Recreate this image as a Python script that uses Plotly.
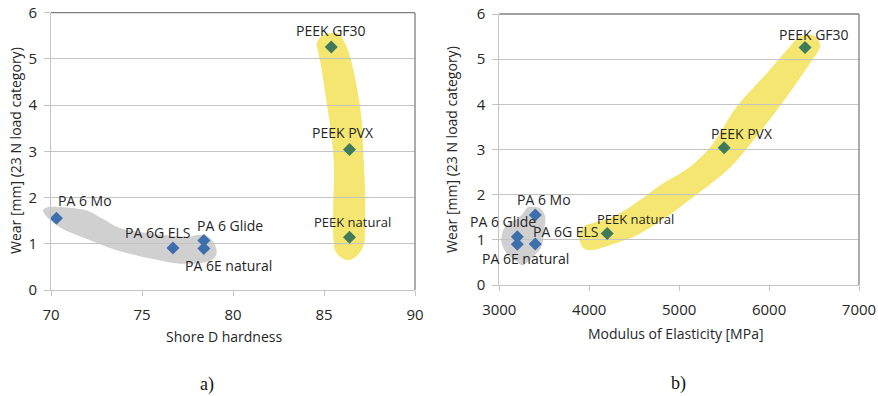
import plotly.graph_objects as go

# ---- data -------------------------------------------------------------
materials = ["PA 6 Mo", "PA 6G ELS", "PA 6 Glide", "PA 6E natural",
             "PEEK natural", "PEEK PVX", "PEEK GF30"]
family = ["PA", "PA", "PA", "PA", "PEEK", "PEEK", "PEEK"]
wear_mm = [1.55, 0.91, 1.07, 0.90, 1.14, 3.04, 5.26]
shore_d = [70.3, 76.7, 78.4, 78.4, 86.4, 86.4, 85.4]
modulus_mpa = [3400, 3400, 3200, 3200, 4200, 5500, 6400]

x_ticks_a = [70, 75, 80, 85, 90]
x_ticks_b = [3000, 4000, 5000, 6000, 7000]
y_ticks = [0, 1, 2, 3, 4, 5, 6]

# ---- highlight outlines (data units) ----------------------------------
pa_zone_a = [(69.67, 1.77), (70.22, 1.80), (71.87, 1.73), (72.79, 1.55),
             (73.88, 1.33), (75.53, 1.22), (77.36, 1.15), (78.09, 1.19),
             (78.64, 1.15), (79.01, 0.97), (79.10, 0.79), (78.83, 0.65),
             (78.09, 0.58), (76.81, 0.58), (75.35, 0.69), (73.52, 0.87),
             (71.87, 1.12), (70.59, 1.33), (69.85, 1.55), (69.58, 1.69)]
peek_zone_a = [(84.60, 5.34), (84.96, 5.52), (85.70, 5.56), (86.06, 5.41),
               (86.43, 5.05), (86.80, 4.40), (87.07, 3.68), (87.16, 2.96),
               (87.25, 2.24), (87.25, 1.52), (87.16, 0.94), (86.43, 0.65),
               (85.70, 0.79), (85.51, 1.15), (85.51, 1.88), (85.55, 2.60),
               (85.42, 3.32), (85.15, 4.04), (84.87, 4.77), (84.69, 5.13)]
pa_zone_b = [(3341, 1.73), (3453, 1.70), (3510, 1.51), (3500, 1.22),
             (3470, 0.85), (3378, 0.63), (3267, 0.44), (3194, 0.52),
             (3100, 0.66), (3027, 0.92), (3044, 1.22), (3119, 1.37),
             (3230, 1.51), (3305, 1.70)]
peek_zone_b = [(3934, 1.29), (4268, 1.51), (4565, 1.88), (4788, 2.21),
               (5121, 2.62), (5380, 3.14), (5641, 3.95), (5974, 4.69),
               (6233, 5.28), (6345, 5.50), (6493, 5.53), (6567, 5.28),
               (6456, 4.91), (6197, 4.17), (5974, 3.58), (5677, 2.84),
               (5455, 2.40), (5158, 1.95), (4862, 1.51), (4565, 1.14),
               (4343, 0.96), (4009, 0.77), (3898, 0.96)]

# label offsets in pixels (dx right, dy up), per chart
label_off_a = [(29, 18), (-15, 15), (26, 15), (25, -17), (3, 15), (-6, 17), (0, 16)]
label_off_b = [(9, 15), (31, 12), (-14, 15), (8, -14), (28, 15), (18, 14), (9, 13)]

W, H = 878, 396
FONT = "Open Sans"
TXT = "#262626"
GRID = "#c4c4c4"
BORDER = "#808080"
COLORS = {"PA": "#3D6FAD", "PEEK": "#3F7A5B"}
PA_FILL = "rgba(200,200,200,0.85)"
PEEK_FILL = "rgba(243,228,100,0.92)"

# plot areas in pixels (left, right, top, bottom)
box_a = (51, 415, 12.7, 290)
box_b = (499.3, 859, 14, 285)
rng_a = (70, 90)
rng_b = (3000, 7000)
rng_y = (0, 6)


def dom(box):
    l, r, t, b = box
    return [l / W, r / W], [1 - b / H, 1 - t / H]


xd_a, yd_a = dom(box_a)
xd_b, yd_b = dom(box_b)


def to_paper(pt, xd, yd, xr):
    x, y = pt
    px = xd[0] + (x - xr[0]) / (xr[1] - xr[0]) * (xd[1] - xd[0])
    py = yd[0] + (y - rng_y[0]) / (rng_y[1] - rng_y[0]) * (yd[1] - yd[0])
    return px, py


def smooth_path(pts):
    """Closed Catmull-Rom spline as an SVG path."""
    n = len(pts)
    d = "M %.5f,%.5f" % pts[0]
    for i in range(n):
        p0, p1, p2, p3 = pts[i - 1], pts[i], pts[(i + 1) % n], pts[(i + 2) % n]
        c1 = (p1[0] + (p2[0] - p0[0]) / 6, p1[1] + (p2[1] - p0[1]) / 6)
        c2 = (p2[0] - (p3[0] - p1[0]) / 6, p2[1] - (p3[1] - p1[1]) / 6)
        d += " C %.5f,%.5f %.5f,%.5f %.5f,%.5f" % (c1 + c2 + p2)
    return d + " Z"


def zone(outline, xd, yd, xr, fill):
    pts = [to_paper(p, xd, yd, xr) for p in outline]
    return dict(type="path", xref="paper", yref="paper", path=smooth_path(pts),
                fillcolor=fill, line=dict(width=0), layer="below")


fig = go.Figure()

for xs, xa, ya in [(shore_d, "x", "y"), (modulus_mpa, "x2", "y2")]:
    for fam in ["PA", "PEEK"]:
        idx = [i for i, f in enumerate(family) if f == fam]
        fig.add_trace(go.Scatter(
            x=[xs[i] for i in idx], y=[wear_mm[i] for i in idx],
            mode="markers", xaxis=xa, yaxis=ya, showlegend=False,
            marker=dict(symbol="diamond", size=10, color=COLORS[fam],
                        line=dict(width=0)),
            text=[materials[i] for i in idx], hoverinfo="text"))

shapes = [
    zone(pa_zone_a, xd_a, yd_a, rng_a, PA_FILL),
    zone(peek_zone_a, xd_a, yd_a, rng_a, PEEK_FILL),
    zone(pa_zone_b, xd_b, yd_b, rng_b, PA_FILL),
    zone(peek_zone_b, xd_b, yd_b, rng_b, PEEK_FILL),
]
# dark frame on top and right of each plot area
for xd, yd in [(xd_a, yd_a), (xd_b, yd_b)]:
    shapes.append(dict(type="line", xref="paper", yref="paper",
                       x0=xd[0], x1=xd[1], y0=yd[1], y1=yd[1],
                       line=dict(color=BORDER, width=1.3), layer="above"))
    shapes.append(dict(type="line", xref="paper", yref="paper",
                       x0=xd[1], x1=xd[1], y0=yd[0], y1=yd[1],
                       line=dict(color=BORDER, width=1.3), layer="above"))

annotations = []
for xs, offs, xa, ya in [(shore_d, label_off_a, "x", "y"),
                         (modulus_mpa, label_off_b, "x2", "y2")]:
    for i, name in enumerate(materials):
        dx, dy = offs[i]
        annotations.append(dict(
            x=xs[i], y=wear_mm[i], xref=xa, yref=ya, text=name,
            showarrow=False, xshift=dx, yshift=dy,
            xanchor="center", yanchor="middle",
            font=dict(family=FONT, size=13 if name == "PEEK natural" else 14,
                      color=TXT)))

# axis titles and panel letters
for txt, xp, yp, ang in [("Shore D hardness", 224, 336, 0),
                         ("Modulus of Elasticity [MPa]", 676, 333, 0),
                         ("Wear [mm] (23 N load category)", 16, 151, -90),
                         ("Wear [mm] (23 N load category)", 451, 150, -90)]:
    annotations.append(dict(x=xp / W, y=1 - yp / H, xref="paper", yref="paper",
                            text=txt, showarrow=False, textangle=ang,
                            xanchor="center", yanchor="middle",
                            font=dict(family=FONT, size=14, color=TXT)))
for txt, xp, yp in [("a)", 207, 384), ("b)", 678, 383)]:
    annotations.append(dict(x=xp / W, y=1 - yp / H, xref="paper", yref="paper",
                            text=txt, showarrow=False,
                            xanchor="center", yanchor="middle",
                            font=dict(family="Liberation Serif", size=18,
                                      color="#111111")))

xcommon = dict(showgrid=False, zeroline=False, showline=True, linecolor=GRID,
               linewidth=1, ticks="outside", ticklen=5, tickcolor=GRID,
               tickfont=dict(family=FONT, size=15, color=TXT),
               ticklabelstandoff=6, automargin=False, fixedrange=True)
ycommon = dict(range=list(rng_y), tickvals=y_ticks, showgrid=True,
               gridcolor=GRID, gridwidth=1, zeroline=False, showline=True,
               linecolor=GRID, linewidth=1, ticks="outside", ticklen=6,
               tickcolor=GRID, tickfont=dict(family=FONT, size=15, color=TXT),
               ticklabelstandoff=4, automargin=False, fixedrange=True)

fig.update_layout(
    width=W, height=H, margin=dict(l=0, r=0, t=0, b=0, autoexpand=False),
    paper_bgcolor="white", plot_bgcolor="white",
    xaxis=dict(domain=xd_a, range=list(rng_a), tickvals=x_ticks_a,
               anchor="y", **xcommon),
    yaxis=dict(domain=yd_a, anchor="x", **ycommon),
    xaxis2=dict(domain=xd_b, range=list(rng_b), tickvals=x_ticks_b,
                anchor="y2", **xcommon),
    yaxis2=dict(domain=yd_b, anchor="x2", **ycommon),
    shapes=shapes, annotations=annotations,
)

fig.write_html("out.html")
